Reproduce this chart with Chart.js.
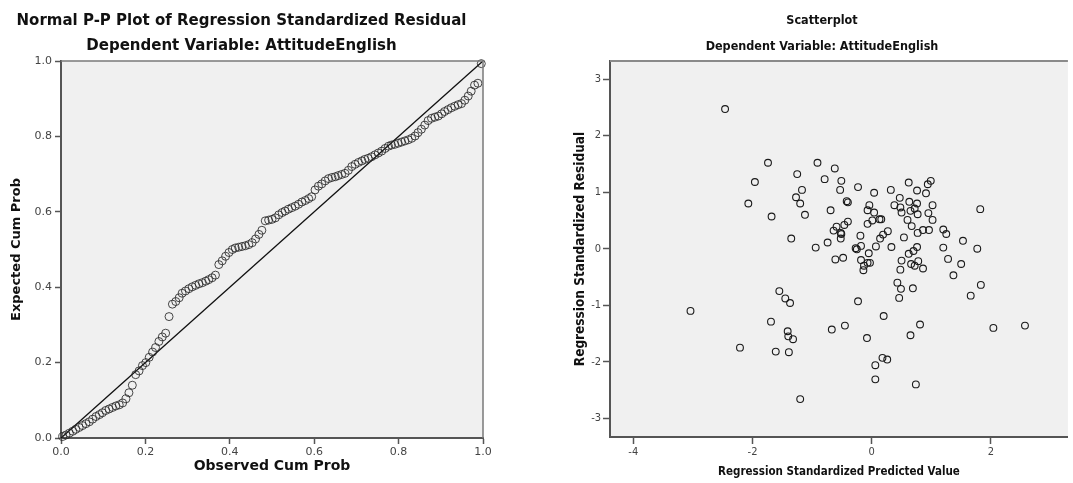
<!DOCTYPE html>
<html>
<head>
<meta charset="utf-8">
<script src="https://cdn.jsdelivr.net/npm/chart.js@4/dist/chart.umd.min.js"></script>
<style>
  html, body { margin: 0; padding: 0; background: #fff; }
  #wrap { position: relative; width: 1073px; height: 483px; overflow: hidden; }
  canvas { position: absolute; top: 0; }
  #pp { left: 0; }
  #sc { left: 540px; }
</style>
</head>
<body>
<div id="wrap">
  <canvas id="pp" width="500" height="483"></canvas>
  <canvas id="sc" width="533" height="483"></canvas>
</div>
<script>
// ---- Normal P-P plot: observed vs expected cumulative probability ----
const ppObserved = [
  0.004, 0.012, 0.020, 0.028, 0.035, 0.043, 0.051, 0.059, 0.067, 0.075,
  0.083, 0.091, 0.098, 0.106, 0.114, 0.122, 0.130, 0.138, 0.146, 0.154,
  0.161, 0.169, 0.177, 0.185, 0.193, 0.201, 0.209, 0.217, 0.224, 0.232,
  0.240, 0.248, 0.256, 0.264, 0.272, 0.280, 0.287, 0.295, 0.303, 0.311,
  0.319, 0.327, 0.335, 0.343, 0.350, 0.358, 0.366, 0.374, 0.382, 0.390,
  0.398, 0.406, 0.413, 0.421, 0.429, 0.437, 0.445, 0.453, 0.461, 0.469,
  0.476, 0.484, 0.492, 0.500, 0.508, 0.516, 0.524, 0.531, 0.539, 0.547,
  0.555, 0.563, 0.571, 0.579, 0.587, 0.594, 0.602, 0.610, 0.618, 0.626,
  0.634, 0.642, 0.650, 0.657, 0.665, 0.673, 0.681, 0.689, 0.697, 0.705,
  0.713, 0.720, 0.728, 0.736, 0.744, 0.752, 0.760, 0.768, 0.776, 0.783,
  0.791, 0.799, 0.807, 0.815, 0.823, 0.831, 0.839, 0.846, 0.854, 0.862,
  0.870, 0.878, 0.886, 0.894, 0.902, 0.909, 0.917, 0.925, 0.933, 0.941,
  0.949, 0.957, 0.965, 0.972, 0.980, 0.988, 0.996
];
const ppExpected = [
  0.004, 0.008, 0.013, 0.018, 0.023, 0.028, 0.033, 0.038, 0.043, 0.050,
  0.057, 0.062, 0.067, 0.073, 0.077, 0.081, 0.085, 0.088, 0.093, 0.104,
  0.120, 0.140, 0.168, 0.178, 0.192, 0.200, 0.214, 0.228, 0.240, 0.256,
  0.268, 0.278, 0.322, 0.355, 0.362, 0.372, 0.384, 0.390, 0.396, 0.401,
  0.405, 0.409, 0.412, 0.416, 0.420, 0.425, 0.432, 0.460, 0.470, 0.482,
  0.492, 0.500, 0.504, 0.506, 0.508, 0.510, 0.513, 0.518, 0.528, 0.540,
  0.551, 0.576, 0.578, 0.580, 0.584, 0.592, 0.598, 0.602, 0.607, 0.611,
  0.615, 0.620, 0.626, 0.630, 0.635, 0.640, 0.658, 0.668, 0.674, 0.682,
  0.688, 0.691, 0.693, 0.696, 0.699, 0.702, 0.710, 0.720, 0.726, 0.731,
  0.735, 0.739, 0.742, 0.746, 0.751, 0.756, 0.761, 0.768, 0.774, 0.777,
  0.779, 0.782, 0.785, 0.788, 0.791, 0.795, 0.801, 0.810, 0.819, 0.830,
  0.842, 0.848, 0.851, 0.854, 0.860, 0.866, 0.871, 0.876, 0.880, 0.884,
  0.887, 0.896, 0.907, 0.920, 0.936, 0.941, 0.993
];
// Reference diagonal (observed = expected)
const diagX = [0, 1];
const diagY = [0, 1];
const ppTickLabels = ['0.0', '0.2', '0.4', '0.6', '0.8', '1.0'];

// ---- Scatterplot: standardized predicted value vs standardized residual ----
const predicted = [
  -2.46, -1.74, -1.96, -2.07, -1.68, -1.25, -1.17, -1.27, -1.20, -1.12,
  -1.35, -0.94, -0.91, -3.04, -2.21, -1.55, -1.45, -1.37, -1.69, -1.41,
  -1.40, -1.32, -1.61, -1.39, -1.20, -0.61, -0.48, -0.18, -0.05, -0.13,
  -0.07, -0.03, -0.14, -0.27, -0.25, 0.50, 0.62, 0.70, 0.66, 0.72,
  0.78, 0.86, 0.48, 0.43, 0.49, 0.69, 0.46, -0.23, 1.28, 1.50,
  1.37, 1.83, 1.66, 1.20, 1.77, 0.20, -0.67, -0.45, -0.08, 0.81,
  0.65, 2.04, 2.57, 0.18, 0.26, 0.06, 0.06, 0.74, -0.62, -0.79,
  -0.51, -0.53, -0.23, 0.04, -0.42, -0.40, -0.69, 0.32, 0.62, 0.94,
  0.99, 0.76, 0.91, 0.47, 0.63, 0.76, 1.02, 0.38, 0.48, 0.50,
  0.65, 0.72, 0.77, 0.95, 1.02, 0.60, 0.67, 0.77, 0.86, 0.96,
  0.54, 0.33, -0.04, -0.07, 0.04, 0.01, -0.07, 0.13, 0.16, -0.40,
  -0.46, -0.59, -0.64, -0.52, -0.51, -0.52, -0.74, -0.19, 0.27, 0.19,
  0.14, 0.07, -0.18, 1.20, 1.25, 1.53, 1.82, 0.76
];
const residual = [
  2.47, 1.52, 1.18, 0.80, 0.57, 1.32, 1.04, 0.91, 0.80, 0.60,
  0.18, 0.02, 1.52, -1.10, -1.75, -0.75, -0.88, -0.96, -1.29, -1.46,
  -1.55, -1.60, -1.82, -1.83, -2.66, -0.19, -0.16, -0.20, -0.08, -0.30,
  -0.25, -0.25, -0.38, 0.01, -0.01, -0.21, -0.09, -0.04, -0.27, -0.30,
  -0.22, -0.35, -0.37, -0.60, -0.71, -0.70, -0.87, -0.93, -0.18, -0.27,
  -0.47, -0.64, -0.83, 0.02, 0.00, -1.19, -1.43, -1.36, -1.58, -1.34,
  -1.53, -1.40, -1.36, -1.93, -1.96, -2.06, -2.31, -2.40, 1.42, 1.23,
  1.20, 1.04, 1.09, 0.99, 0.84, 0.82, 0.68, 1.04, 1.17, 1.14,
  1.20, 1.03, 0.98, 0.90, 0.83, 0.80, 0.77, 0.77, 0.73, 0.64,
  0.67, 0.71, 0.61, 0.63, 0.51, 0.51, 0.40, 0.28, 0.33, 0.33,
  0.20, 0.03, 0.77, 0.68, 0.64, 0.50, 0.44, 0.52, 0.52, 0.48,
  0.42, 0.39, 0.32, 0.28, 0.26, 0.18, 0.11, 0.23, 0.31, 0.25,
  0.18, 0.04, 0.05, 0.34, 0.26, 0.14, 0.70, 0.03
];
const scXTicks = [-4, -2, 0, 2];
const scYTicks = [-3, -2, -1, 0, 1, 2, 3];

// Grey plot background plus the thin top/right frame lines
const plotFrame = {
  id: 'plotFrame',
  beforeDraw(chart, args, opts) {
    const { ctx, chartArea: a } = chart;
    ctx.save();
    ctx.fillStyle = opts.fill;
    ctx.fillRect(a.left, a.top, a.right - a.left, a.bottom - a.top);
    ctx.restore();
  },
  afterDraw(chart, args, opts) {
    const { ctx, chartArea: a } = chart;
    ctx.save();
    ctx.strokeStyle = opts.frame;
    ctx.lineWidth = opts.frameWidth;
    ctx.beginPath();
    ctx.moveTo(a.left, a.top);
    ctx.lineTo(a.right, a.top);
    if (opts.right) ctx.lineTo(a.right, a.bottom);
    ctx.stroke();
    ctx.restore();
  }
};

Chart.defaults.animation = false;
Chart.defaults.responsive = false;
Chart.defaults.devicePixelRatio = 1;

const sansBold = (size) => ({ family: 'DejaVu Sans', size, weight: 'bold' });
const narrow = '"Liberation Sans Narrow", "DejaVu Sans Condensed", sans-serif';
const narrowBold = (size) => ({ family: narrow, size, weight: 'bold' });

// ---------- Left chart ----------
new Chart(document.getElementById('pp'), {
  type: 'scatter',
  data: {
    datasets: [
      {
        type: 'line',
        data: diagX.map((x, i) => ({ x, y: diagY[i] })),
        borderColor: '#111',
        borderWidth: 1.3,
        pointRadius: 0,
        fill: false,
        clip: false,
        order: 2
      },
      {
        data: ppObserved.map((x, i) => ({ x, y: ppExpected[i] })),
        pointStyle: 'circle',
        pointRadius: 4,
        pointBorderWidth: 1,
        borderColor: 'rgba(40,40,40,0.85)',
        backgroundColor: 'rgba(0,0,0,0)',
        clip: false,
        order: 1
      }
    ]
  },
  options: {
    layout: { padding: { left: 0, right: 17, top: 0, bottom: 0 } },
    plugins: {
      legend: { display: false },
      tooltip: { enabled: false },
      title: {
        display: true,
        text: 'Normal P-P Plot of Regression Standardized Residual',
        color: '#111',
        font: sansBold(15),
        padding: { top: 12, bottom: 0 }
      },
      subtitle: {
        display: true,
        text: 'Dependent Variable: AttitudeEnglish',
        color: '#111',
        font: sansBold(15),
        padding: { top: 7, bottom: 6 }
      },
      plotFrame: { fill: '#f0f0f0', frame: '#7a7a7a', frameWidth: 1.5, right: true }
    },
    scales: {
      x: {
        type: 'linear',
        min: 0,
        max: 1,
        afterFit: (s) => { s.height = 45; },
        afterBuildTicks: (s) => { s.ticks = ppTickLabels.map((_, i) => ({ value: i * 0.2 })); },
        ticks: {
          callback: (v, i) => ppTickLabels[i],
          color: '#444',
          font: { family: 'DejaVu Sans', size: 11 },
          padding: 2,
          maxRotation: 0
        },
        grid: { drawOnChartArea: false, drawTicks: true, tickLength: 6, color: '#555', tickWidth: 1.5 },
        border: { display: true, color: '#555', width: 2 },
        title: {
          display: true,
          text: 'Observed Cum Prob',
          color: '#111',
          font: sansBold(14),
          padding: { top: 0, bottom: 8.6 }
        }
      },
      y: {
        type: 'linear',
        min: 0,
        max: 1,
        afterFit: (s) => { s.width = 61; },
        afterBuildTicks: (s) => { s.ticks = ppTickLabels.map((_, i) => ({ value: i * 0.2 })); },
        ticks: {
          callback: (v, i) => ppTickLabels[i],
          color: '#444',
          font: { family: 'DejaVu Sans', size: 11 },
          padding: 3
        },
        grid: { drawOnChartArea: false, drawTicks: true, tickLength: 6, color: '#555', tickWidth: 1.5 },
        border: { display: true, color: '#555', width: 2 },
        title: {
          display: true,
          text: 'Expected Cum Prob',
          color: '#111',
          font: sansBold(13),
          padding: { top: 9.2, bottom: 0 }
        }
      }
    }
  },
  plugins: [plotFrame]
});

// ---------- Right chart ----------
new Chart(document.getElementById('sc'), {
  type: 'scatter',
  data: {
    datasets: [
      {
        data: predicted.map((x, i) => ({ x, y: residual[i] })),
        pointStyle: 'circle',
        pointRadius: 3.4,
        pointBorderWidth: 1.1,
        borderColor: '#1a1a1a',
        backgroundColor: 'rgba(0,0,0,0)'
      }
    ]
  },
  options: {
    layout: { padding: { left: 31, right: 0, top: 0, bottom: 0 } },
    plugins: {
      legend: { display: false },
      tooltip: { enabled: false },
      title: {
        display: true,
        text: 'Scatterplot',
        color: '#111',
        font: narrowBold(12.5),
        padding: { top: 13, bottom: 0 }
      },
      subtitle: {
        display: true,
        text: 'Dependent Variable: AttitudeEnglish',
        color: '#111',
        font: narrowBold(12.5),
        padding: { top: 11, bottom: 7 }
      },
      plotFrame: { fill: '#f0f0f0', frame: '#8a8a8a', frameWidth: 2, right: false }
    },
    scales: {
      x: {
        type: 'linear',
        min: -4.39,
        max: 3.29,
        afterFit: (s) => { s.height = 46; },
        afterBuildTicks: (s) => { s.ticks = scXTicks.map((v) => ({ value: v })); },
        ticks: {
          color: '#444',
          font: { family: narrow, size: 11 },
          padding: 2,
          maxRotation: 0
        },
        grid: { drawOnChartArea: false, drawTicks: true, tickLength: 7, color: '#555', tickWidth: 1.5 },
        border: { display: true, color: '#555', width: 2 },
        title: {
          display: true,
          text: 'Regression Standardized Predicted Value',
          color: '#111',
          font: narrowBold(11.5),
          padding: { top: 0, bottom: 3.6 }
        }
      },
      y: {
        type: 'linear',
        min: -3.33,
        max: 3.32,
        afterFit: (s) => { s.width = 39; },
        afterBuildTicks: (s) => { s.ticks = scYTicks.map((v) => ({ value: v })); },
        ticks: {
          color: '#444',
          font: { family: narrow, size: 11 },
          padding: 2
        },
        grid: { drawOnChartArea: false, drawTicks: true, tickLength: 7, color: '#555', tickWidth: 1.5 },
        border: { display: true, color: '#555', width: 2 },
        title: {
          display: true,
          text: 'Regression Standardized Residual',
          color: '#111',
          font: narrowBold(13.5),
          padding: { top: 0.9, bottom: 0 }
        }
      }
    }
  },
  plugins: [plotFrame]
});
</script>
</body>
</html>
